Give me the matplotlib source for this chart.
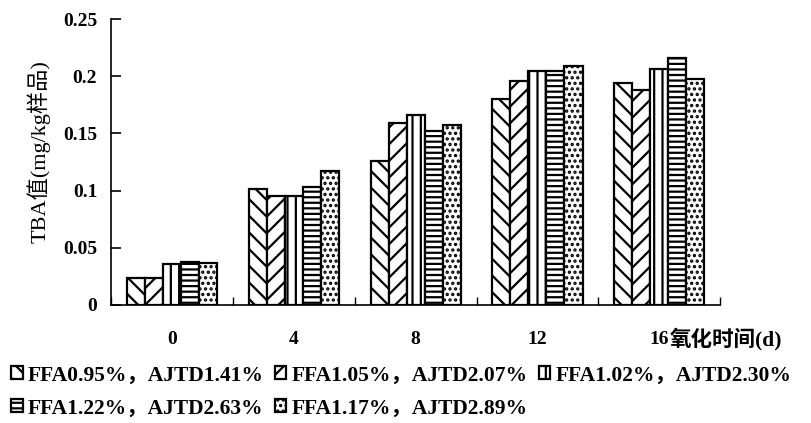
import matplotlib
matplotlib.use("Agg")
import matplotlib.pyplot as plt
import numpy as np

plt.rcParams['font.family'] = ['Liberation Serif', 'Noto Sans CJK SC']
plt.rcParams['hatch.linewidth'] = 1.6
plt.rcParams['hatch.color'] = 'black'

categories = ['0', '4', '8', '12', '16']
series_labels = ['FFA0.95%，AJTD1.41%', 'FFA1.05%，AJTD2.07%', 'FFA1.02%，AJTD2.30%',
                 'FFA1.22%，AJTD2.63%', 'FFA1.17%，AJTD2.89%']
s1 = [0.024, 0.101, 0.126, 0.180, 0.194]
s2 = [0.024, 0.095, 0.159, 0.196, 0.188]
s3 = [0.036, 0.095, 0.166, 0.205, 0.206]
s4 = [0.038, 0.103, 0.152, 0.205, 0.216]
s5 = [0.037, 0.117, 0.157, 0.209, 0.198]
series = [s1, s2, s3, s4, s5]
hatches = ['\\\\', '//', '||', '---', '...']

fig = plt.figure(figsize=(8.11, 4.23), dpi=100)
ax = fig.add_axes([0.137, 0.279, 0.751, 0.676])

n = len(series)
x = np.arange(len(categories))
w = 0.148
handles = []
for i, (vals, h, lab) in enumerate(zip(series, hatches, series_labels)):
    b = ax.bar(x + (i - (n - 1) / 2) * w, vals, w, facecolor='white', edgecolor='black',
               hatch=h, linewidth=1.6, label=lab)
    handles.append(b)

ax.set_xlim(-0.5, len(categories) - 0.5)
ax.set_ylim(0, 0.25)
ax.set_yticks([0, 0.05, 0.1, 0.15, 0.2, 0.25])
ax.set_yticklabels(['0', '0.05', '0.1', '0.15', '0.2', '0.25'], fontsize=14, fontweight='bold')
ax.tick_params(axis='y', direction='in', length=7, width=1.2, pad=10)

ax.set_xticks(np.arange(len(categories) + 1) - 0.5)
ax.set_xticklabels([])
ax.tick_params(axis='x', which='major', direction='in', length=6, width=1.0)
ax.set_xticks(x, minor=True)
ax.set_xticklabels(categories, minor=True, fontsize=14, fontweight='bold')
xpad = 19
ax.tick_params(axis='x', which='minor', length=0, pad=xpad)

ax.annotate('氧化时间(d)', xy=(4.09, 0), xycoords=('data', 'axes fraction'),
            xytext=(0, -xpad - 10.0), textcoords='offset points',
            fontsize=15.5, fontweight='bold', ha='left', va='baseline', annotation_clip=False)

for s in ['top', 'right']:
    ax.spines[s].set_visible(False)
ax.spines['left'].set_linewidth(1.2)
ax.spines['bottom'].set_linewidth(1.2)

ax.set_ylabel('TBA值(mg/kg样品)', fontsize=16)
ax.yaxis.set_label_coords(-0.1, 0.535)

order = [0, 3, 1, 4, 2]
fig.legend([handles[i] for i in order], [series_labels[i] for i in order],
           ncol=3, loc='lower left', bbox_to_anchor=(-0.008, -0.03), frameon=False,
           prop={'size': 15.5, 'weight': 'bold'}, handlelength=0.55, handleheight=0.55,
           handletextpad=0.25, columnspacing=0.5, labelspacing=0.6, borderpad=0.3)

fig.savefig('out.png', dpi=100)
